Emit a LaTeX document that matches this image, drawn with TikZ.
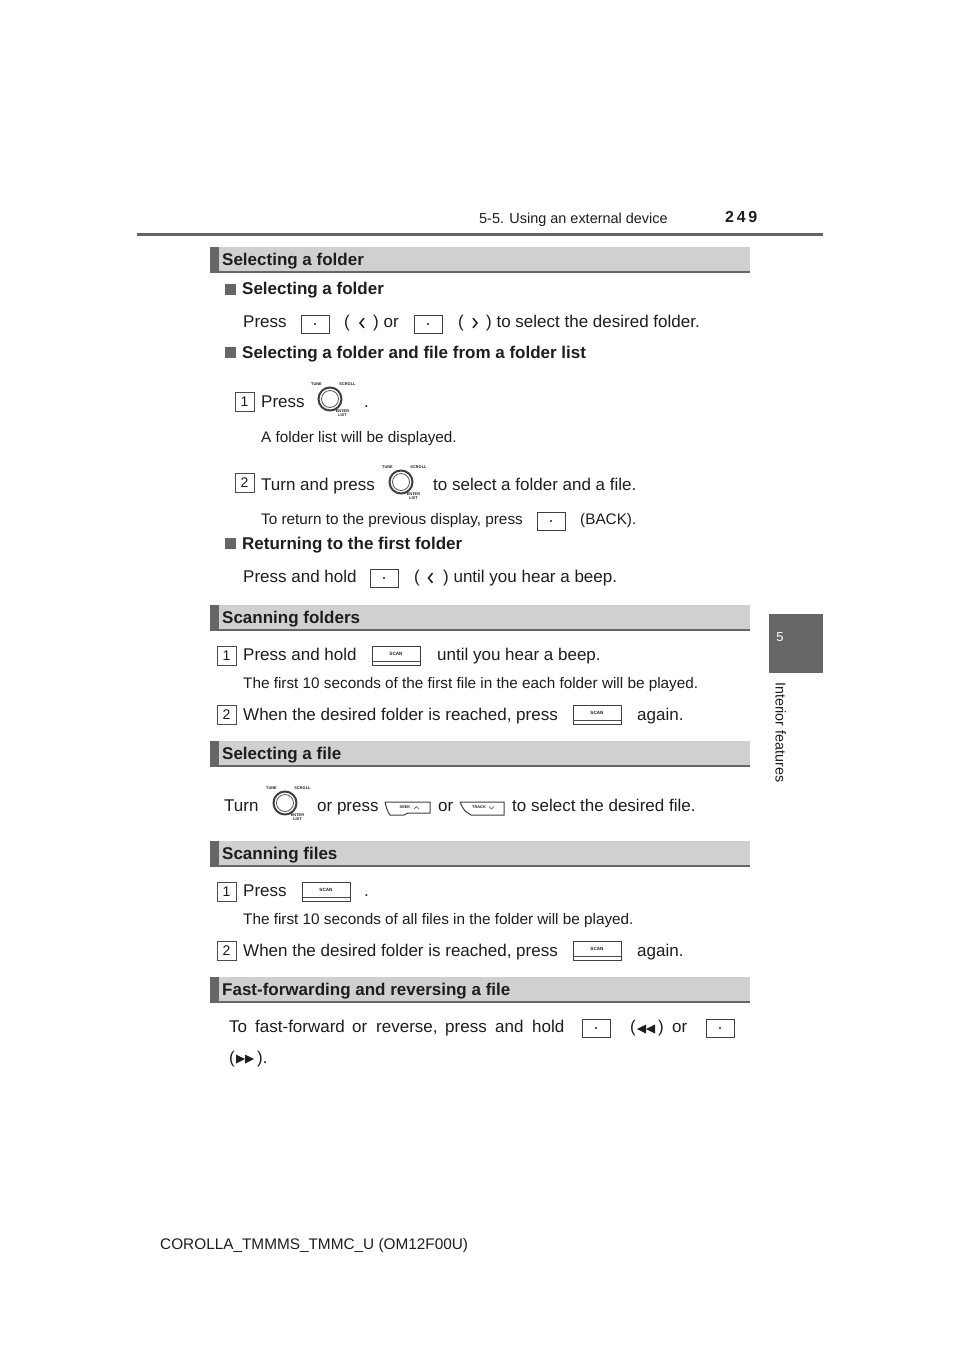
\documentclass[tikz,border=0pt]{standalone}
\usepackage{fontspec}
\setmainfont{Liberation Sans}
\definecolor{ink}{HTML}{1E1E1E}
\definecolor{barfill}{HTML}{D0D0D0}
\definecolor{bardark}{HTML}{666666}
\tikzset{
  bodytext/.style={anchor=base west,inner sep=0pt,text=ink,font=\fontsize{17}{17}\selectfont},
  smalltext/.style={anchor=base west,inner sep=0pt,text=ink,font=\fontsize{15.3}{15}\selectfont},
  headtext/.style={anchor=base west,inner sep=0pt,text=ink,font=\bfseries\fontsize{17}{17}\selectfont},
  tiny label/.style={inner sep=0pt,text=ink,font=\bfseries\fontsize{3.9}{4}\selectfont},
  keyline/.style={draw=black!75,line width=1pt},
}
% section bar
\newcommand{\secbar}[2]{%
  \fill[barfill] (210,#1) rectangle (750,#1+25);
  \fill[bardark] (210,#1) rectangle (219,#1+25);
  \fill[bardark] (210,#1+24) rectangle (750,#1+26);
  \node[headtext] at (222,#1+18.5) {#2};}
% square bullet
\newcommand{\bul}[2]{\fill[bardark] (#1,#2) rectangle +(10.5,10.5);}
% step number
\newcommand{\stepno}[3]{%
  \node[draw=black!70,line width=0.7pt,minimum size=18.5pt,inner sep=0pt,anchor=north west,text=ink,font=\fontsize{14}{14}\selectfont] at (#1,#2) {#3};}
% blank key with a dot
\newcommand{\dotkey}[2]{%
  \draw[keyline] (#1,#2) rectangle +(28,18);
  \fill[ink] (#1+14,#2+9) circle (1.1pt);}
% knob
\newcommand{\knob}[2]{%
  \draw[black!75,line width=2pt] (#1,#2) circle (11.5);
  \draw[black!65,line width=0.8pt] (#1,#2) circle (8.5);
  \node[tiny label] at (#1-13.5,#2-15) {TUNE};
  \node[tiny label] at (#1+17.5,#2-15) {SCROLL};
  \node[tiny label,align=center] at (#1+12.5,#2+14) {ENTER\\[-0.5pt]LIST};}
% scan key
\newcommand{\scankey}[2]{%
  \draw[keyline] (#1,#2) rectangle +(48,19);
  \draw[black!70,line width=0.7pt] (#1,#2+15.5) -- +(48,0);
  \node[tiny label,font=\bfseries\fontsize{4.6}{5}\selectfont] at (#1+24,#2+8) {SCAN};}
% chevrons
\newcommand{\chevl}[2]{\draw[ink,line width=1.5pt] (#1+4.5,#2-4.8) -- (#1+0.5,#2) -- (#1+4.5,#2+4.8);}
\newcommand{\chevr}[2]{\draw[ink,line width=1.5pt] (#1,#2-4.8) -- (#1+4,#2) -- (#1,#2+4.8);}
\begin{document}
\begin{tikzpicture}[x=1pt,y=-1pt]
\useasboundingbox (0,0) rectangle (960,1358);
\fill[white] (0,0) rectangle (960,1358);
% header
\node[smalltext,font=\fontsize{14.45}{15}\selectfont] (hdr) at (479,223) {5-5. Using an external device};
\node[anchor=base west,inner sep=0pt,text=ink,font=\bfseries\fontsize{16}{16}\selectfont] (pg) at (725,222) {2\,4\,9};
\fill[bardark] (137,233) rectangle (823,235.5);
% side tab
\fill[bardark] (769,614) rectangle (823,673);
\node[inner sep=0pt,text=white,font=\fontsize{13}{13}\selectfont] (tabno) at (780,637.5) {5};
\node[rotate=-90,anchor=base west,inner sep=0pt,text=ink,font=\fontsize{14.3}{14}\selectfont] (tabtxt) at (775.5,682) {Interior features};
% footer
\node[bodytext,font=\fontsize{15.35}{16}\selectfont] (foot) at (160,1249) {COROLLA\_TMMMS\_TMMC\_U (OM12F00U)};
% --- Selecting a folder
\secbar{247}{Selecting a folder}
\bul{225}{284}
\node[headtext] (a1) at (242,294) {Selecting a folder};
\node[bodytext] (a2) at (243,327) {Press};
\dotkey{301}{315}
\node[bodytext] (a3) at (344,327) {(};
\chevl{359.5}{323}
\node[bodytext] (a4) at (373,327) {) or};
\dotkey{414}{315}
\node[bodytext] (a5) at (458,327) {(};
\chevr{473}{323}
\node[bodytext] (a6) at (486,327) {) to select the desired folder.};
\bul{225}{347}
\node[headtext] (a7) at (242,358) {Selecting a folder and file from a folder list};
\stepno{235}{392}{1}
\node[bodytext] (a8) at (261,407) {Press};
\knob{330}{399}
\node[bodytext] (a9) at (364,407) {.};
\node[smalltext] (a10) at (261,442.5) {A folder list will be displayed.};
\stepno{235}{473}{2}
\node[bodytext] (a11) at (261,490) {Turn and press};
\knob{401}{482}
\node[bodytext] (a12) at (433,490) {to select a folder and a file.};
\node[smalltext] (a13) at (261,524.5) {To return to the previous display, press};
\dotkey{537}{512}
\node[smalltext] (a14) at (580,524.5) {(BACK).};
\bul{225}{538}
\node[headtext] (a15) at (242,549) {Returning to the first folder};
\node[bodytext] (a16) at (243,582) {Press and hold};
\dotkey{370}{569}
\node[bodytext] (a17) at (414,582) {(};
\chevl{428}{578}
\node[bodytext] (a18) at (443,582) {) until you hear a beep.};
% --- Scanning folders
\secbar{605}{Scanning folders}
\stepno{217}{646}{1}
\node[bodytext] (b1) at (243,660) {Press and hold};
\scankey{372}{646}
\node[bodytext] (b2) at (437,660) {until you hear a beep.};
\node[smalltext] (b3) at (243,688.5) {The first 10 seconds of the first file in the each folder will be played.};
\stepno{217}{705}{2}
\node[bodytext] (b4) at (243,720) {When the desired folder is reached, press};
\scankey{573}{705}
\node[bodytext] (b5) at (637,720) {again.};
% --- Selecting a file
\secbar{741}{Selecting a file}
\node[bodytext] (c1) at (224,811) {Turn};
\knob{285}{803}
\node[bodytext] (c2) at (317,811) {or press};
\draw[keyline] (385,802) -- (430,802) -- (430,813) -- (408,813) -- (404,815) -- (390,815) .. controls (387,811) and (386,806) .. (385,802);
\node[tiny label] (c3) at (405,807.5) {SEEK};
\draw[black!70,line width=0.5pt] (414,809) -- (416.5,806.5) -- (419,809);
\node[bodytext] (c4) at (438,811) {or};
\draw[keyline] (460,802) -- (504,802) -- (504,815) -- (471,815) -- (465,811) .. controls (463,808) and (461,805) .. (460,802);
\node[tiny label] (c5) at (479,807.5) {TRACK};
\draw[black!70,line width=0.5pt] (489,806.5) -- (491.5,809) -- (494,806.5);
\node[bodytext] (c6) at (512,811) {to select the desired file.};
% --- Scanning files
\secbar{841}{Scanning files}
\stepno{217}{882}{1}
\node[bodytext] (d1) at (243,896) {Press};
\scankey{302}{882}
\node[bodytext] (d2) at (364,896) {.};
\node[smalltext] (d3) at (243,924.5) {The first 10 seconds of all files in the folder will be played.};
\stepno{217}{941}{2}
\node[bodytext] (d4) at (243,956) {When the desired folder is reached, press};
\scankey{573}{941}
\node[bodytext] (d5) at (637,956) {again.};
% --- Fast-forwarding
\secbar{977}{Fast-forwarding and reversing a file}
\node[bodytext] (e1) at (229,1032) {To};
\node[bodytext] (e2) at (255,1032) {fast-forward};
\node[bodytext] (e3) at (352,1032) {or};
\node[bodytext] (e4) at (376,1032) {reverse,};
\node[bodytext] (e5) at (445,1032) {press};
\node[bodytext] (e6) at (495,1032) {and};
\node[bodytext] (e7) at (532,1032) {hold};
\dotkey{582}{1019}
\node[bodytext] (e8) at (630,1032) {(};
\fill[ink] (646,1024.5) -- (637,1029) -- (646,1033.5) -- cycle;
\fill[ink] (655,1024.5) -- (646,1029) -- (655,1033.5) -- cycle;
\node[bodytext] (e9) at (658,1032) {)};
\node[bodytext] (e10) at (672,1032) {or};
\dotkey{706}{1019}
\node[bodytext] (e11) at (229,1063.5) {(};
\fill[ink] (236,1054.5) -- (245,1059) -- (236,1063.5) -- cycle;
\fill[ink] (245,1054.5) -- (254,1059) -- (245,1063.5) -- cycle;
\node[bodytext] (e12) at (257,1063.5) {).};
\end{tikzpicture}
\end{document}
